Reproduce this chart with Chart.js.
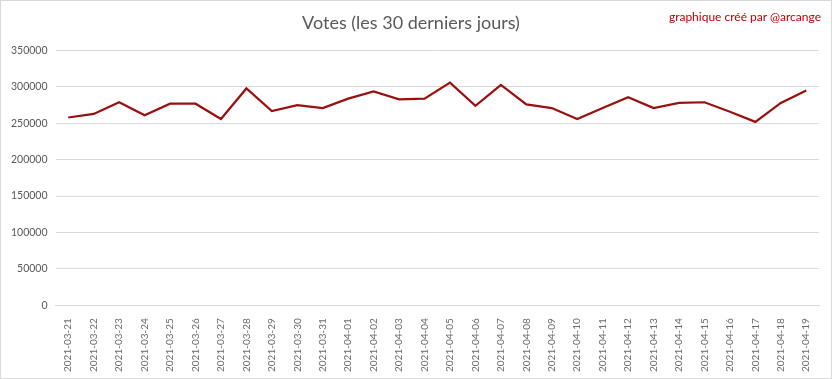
<!DOCTYPE html>
<html>
<head>
<meta charset="utf-8">
<script src="https://cdn.jsdelivr.net/npm/chart.js@4"></script>
<style>
 body{margin:0;background:#fff;}
 #wrap{position:relative;width:830px;height:377px;border:1px solid #d9d9d9;}
 #credit{position:absolute;right:10px;top:8px;font:12px Lato, sans-serif;color:#c00000;}
</style>
</head>
<body>
<div id="wrap">
 <canvas id="myChart" width="830" height="377"></canvas>
 <div id="credit">graphique créé par @arcange</div>
</div>
<script>
const dates=['2021-03-21','2021-03-22','2021-03-23','2021-03-24','2021-03-25','2021-03-26','2021-03-27','2021-03-28','2021-03-29','2021-03-30',
 '2021-03-31','2021-04-01','2021-04-02','2021-04-03','2021-04-04','2021-04-05','2021-04-06','2021-04-07','2021-04-08','2021-04-09',
 '2021-04-10','2021-04-11','2021-04-12','2021-04-13','2021-04-14','2021-04-15','2021-04-16','2021-04-17','2021-04-18','2021-04-19'];
const votes=[258000,263000,279000,261000,277000,277000,256000,298000,267000,275000,
 271000,284000,294000,283000,284000,306000,274000,303000,276000,271000,
 256000,271000,286000,271000,278000,279000,266000,252000,278000,295000];
const yMin=0, yMax=350000, yStep=50000;

const ctx=document.getElementById('myChart');
new Chart(ctx,{
 type:'line',
 data:{
  labels:dates,
  datasets:[{label:'Votes',data:votes,borderColor:'#9c0f0f',borderWidth:2.2,pointRadius:0,tension:0,fill:false}]
 },
 options:{
  responsive:false,
  animation:false,
  layout:{padding:{left:2,right:12,top:0,bottom:1}},
  plugins:{
   legend:{display:false},
   tooltip:{enabled:false},
   title:{display:true,text:'Votes (les 30 derniers jours)',color:'#595959',
    font:{family:'Lato',size:18,weight:'normal'},padding:{top:11,bottom:17}}
  },
  scales:{
   x:{offset:true,grid:{display:false},border:{color:'#d9d9d9'},
    ticks:{autoSkip:false,minRotation:90,maxRotation:90,color:'#6b6b6b',font:{family:'Lato',size:10},padding:5}},
   y:{min:yMin,max:yMax,border:{display:false},grid:{color:'#d9d9d9',drawTicks:false},
    ticks:{stepSize:yStep,color:'#595959',font:{family:'Lato',size:10.5},padding:8,callback:v=>String(v)}}
  }
 }
});
</script>
</body>
</html>
